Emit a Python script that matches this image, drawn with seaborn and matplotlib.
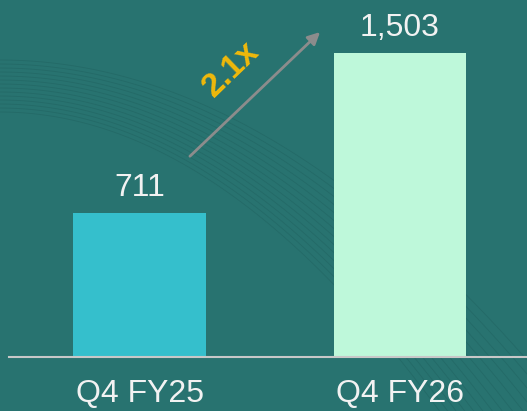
import numpy as np
import pandas as pd
import matplotlib
matplotlib.use('Agg')
import matplotlib.pyplot as plt
import seaborn as sns

quarters = ['Q4 FY25', 'Q4 FY26']
values = [711, 1503]
bar_colors = ['#35BFCC', '#BEF8DA']
growth_label = '2.1x'

sns.set_theme(style='white')
plt.rcParams['font.family'] = ['Liberation Sans', 'DejaVu Sans']

bg = '#287370'
fig = plt.figure(figsize=(5.27, 4.11), dpi=100, facecolor=bg)

# decorative background swoosh lines
deco = fig.add_axes([0, 0, 1, 1], zorder=0)
deco.set_xlim(0, 527)
deco.set_ylim(411, 0)
deco.axis('off')
t = np.linspace(0, 527, 200)
for k in range(14):
    yy = 60 + 4 * k + (t / 527) ** 2 * (300 + 10 * k)
    deco.plot(t, yy, color='#1f5f5d', lw=0.6, alpha=0.45)

ax = fig.add_axes([9 / 527, (411 - 357) / 411, 518 / 527, 357 / 411], zorder=1)
ax.patch.set_alpha(0)
df = pd.DataFrame({'quarter': quarters, 'value': values})
sns.barplot(data=df, x='quarter', y='value', hue='quarter', palette=bar_colors,
            width=0.508, saturation=1, legend=False, linewidth=0, edgecolor='none', ax=ax)
ax.set_xlim(-0.502, 1.49)
ax.set_ylim(0, 1765)

for i, v in enumerate(values):
    ax.text(i, v + 50, f'{v:,}', ha='center', va='bottom', fontsize=23, color='#F2F2F2')

# growth arrow
ax.annotate('', xy=(0.702, 1616), xytext=(0.186, 983),
            arrowprops=dict(arrowstyle='-|>', color='#8C8C8C', lw=2, mutation_scale=18))
ax.text(0.352, 1420, growth_label, rotation=44, ha='center', va='center',
        fontsize=24, fontweight='bold', color='#F0B90B', rotation_mode='anchor')

for s in ['top', 'right', 'left']:
    ax.spines[s].set_visible(False)
ax.spines['bottom'].set_color('#C8C8C8')
ax.spines['bottom'].set_linewidth(1.5)
ax.set_yticks([])
ax.set_xlabel('')
ax.set_ylabel('')
ax.tick_params(axis='x', length=0, pad=16, labelsize=23, labelcolor='#F2F2F2')

fig.savefig('out.png', dpi=100, facecolor=bg)
